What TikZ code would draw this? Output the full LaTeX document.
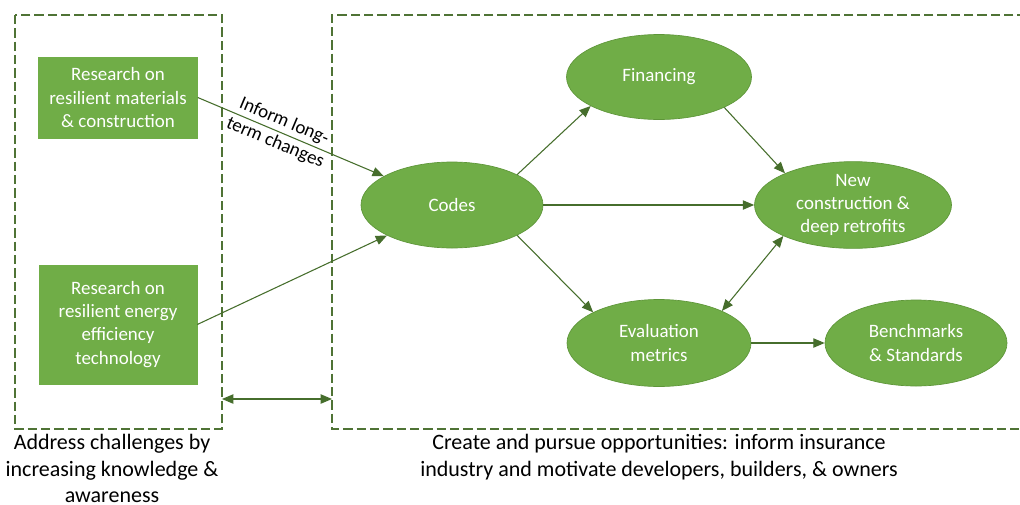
\documentclass[tikz,border=0pt]{standalone}
\usepackage{fontspec}
\setmainfont{Carlito}
\usetikzlibrary{shapes.geometric,arrows.meta}
\definecolor{leaf}{HTML}{70AD47}
\definecolor{leafedge}{HTML}{5E9639}
\definecolor{stem}{HTML}{466E2C}
\definecolor{zone}{HTML}{4F7335}
\tikzset{
  nodefont/.style={font=\fontsize{14.2}{17.3}\selectfont},
  capfont/.style={font=\fontsize{16.5}{19.6}\selectfont},
  bubble/.style={ellipse, fill=leaf, draw=leafedge, line width=0.5pt, text=white,
    inner sep=0pt, align=center, nodefont},
  block/.style={rectangle, fill=leaf, draw=leaf, text=white, inner sep=0pt,
    align=center, nodefont},
  zonebox/.style={draw=zone, line width=0.8pt, dash pattern=on 7pt off 3pt},
  link/.style={draw=stem, line width=0.8pt, -{Triangle[length=8.5pt,width=7pt]}},
  twoway/.style={draw=stem, line width=0.8pt,
    {Triangle[length=8.5pt,width=7pt]}-{Triangle[length=8.5pt,width=7pt]}},
}
\begin{document}
\begin{tikzpicture}[x=0.75pt,y=-0.75pt]
\clip (0,0) rectangle (1020,504);
\fill[white] (0,0) rectangle (1020,504);

% the two zones
\draw[zonebox] (15,15) rectangle (222,429);
\draw[zonebox] (1040,15) -- (332,15) -- (332,429) -- (1040,429);

% research blocks
\node[block, minimum width=119.25pt, minimum height=60.75pt] (mat) at (118,97.5)
  {Research on\\resilient materials\\\& construction};
\node[block, minimum width=118.5pt, minimum height=89.25pt] (eff) at (118,324.5)
  {Research on\\resilient energy\\efficiency\\technology};

% outcome bubbles
\node[bubble, minimum width=136.5pt, minimum height=64.5pt] (codes) at (452,205) {Codes};
\node[bubble, minimum width=138.75pt, minimum height=63.75pt] (fin) at (659,77) {Financing};
\node[bubble, minimum width=147.75pt, minimum height=64.5pt] (newc) at (853,205)
  {New\\construction \&\\deep retrofits};
\node[bubble, minimum width=138pt, minimum height=65.25pt] (eval) at (659,343)
  {Evaluation\\metrics};
\node[bubble, minimum width=136.5pt, minimum height=64.5pt] (bench) at (916,343)
  {Benchmarks\\\& Standards};

% connectors
\draw[link] (mat.east) -- (codes)
  node[pos=0.44, sloped, align=center, nodefont, text=black, inner sep=1pt]
  {Inform long-\\term changes};
\draw[link] (eff.east) -- (codes);
\draw[link] (codes.25) -- (fin.203);
\draw[link] (fin.335) -- (newc.155);
\draw[link] (codes.east) -- (newc.west);
\draw[link] (codes.335) -- (eval.155);
\draw[twoway] (newc.204) -- (eval.27);
\draw[link] (eval.east) -- (bench.west);

\coordinate (za) at (222,399);
\coordinate (zb) at (332,399);
\draw[twoway] (za) -- (zb);

% captions
\node[capfont, align=center, anchor=north] (capl) at (112,430)
  {Address challenges by\\increasing knowledge \&\\awareness};
\node[capfont, align=center, anchor=north] (capr) at (659,430)
  {Create and pursue opportunities: inform insurance\\industry and motivate developers, builders, \& owners};
\end{tikzpicture}
\end{document}
